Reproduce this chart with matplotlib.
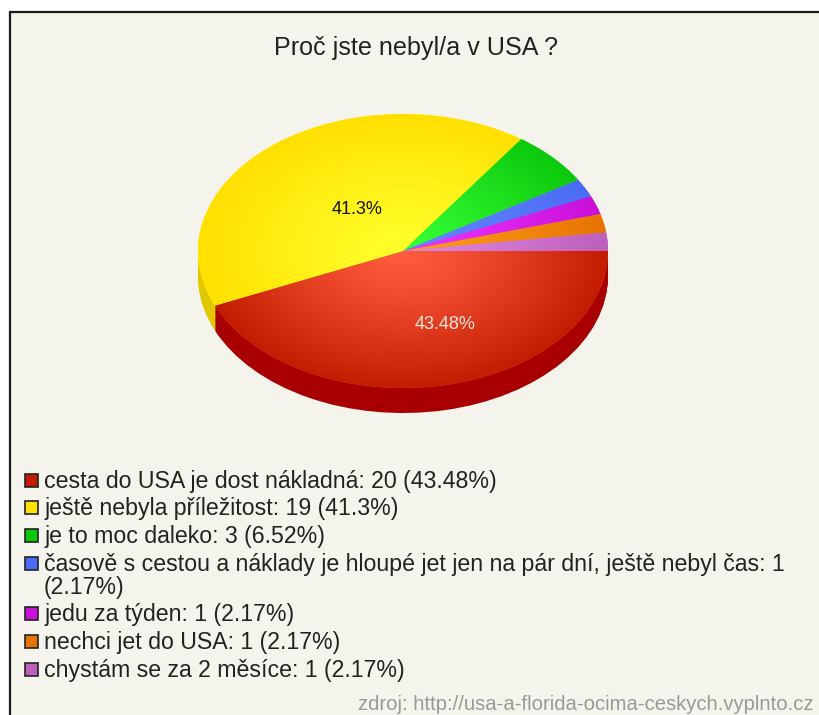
import numpy as np
import matplotlib
matplotlib.use("Agg")
import matplotlib.pyplot as plt
from matplotlib.colors import LinearSegmentedColormap
from matplotlib.patches import Rectangle

plt.rcParams['font.family'] = ['Liberation Sans', 'DejaVu Sans']

title = "Proč jste nebyl/a v USA ?"
source = "zdroj: http://usa-a-florida-ocima-ceskych.vyplnto.cz"
counts = [20, 19, 3, 1, 1, 1, 1]
shares = [43.48, 41.3, 6.52, 2.17, 2.17, 2.17, 2.17]
legend_labels = [
    "cesta do USA je dost nákladná: 20 (43.48%)",
    "ještě nebyla příležitost: 19 (41.3%)",
    "je to moc daleko: 3 (6.52%)",
    "časově s cestou a náklady je hloupé jet jen na pár dní, ještě nebyl čas: 1\n(2.17%)",
    "jedu za týden: 1 (2.17%)",
    "nechci jet do USA: 1 (2.17%)",
    "chystám se za 2 měsíce: 1 (2.17%)",
]
inner_colors = ['#ff5c3e', '#ffff2a', '#36ff36', '#6484ff', '#ec34ff', '#ff9c1e', '#e084e0']
outer_colors = ['#c41c00', '#ffe000', '#0cc80c', '#4a6cf4', '#c810d8', '#e87400', '#bc60bc']
side_colors = ['#a80000', '#e0c800', '#0a9a0a', '#3a54c0', '#9c0ca8', '#b45a00', '#944a94']
legend_colors = ['#c41c00', '#ffe000', '#0cc80c', '#4a6cf4', '#c810d8', '#e87400', '#bc60bc']

W, H = 819, 715
BG = '#f4f4ec'


def fx(x):
    return x / W


def fy(y):
    return 1 - y / H


fig = plt.figure(figsize=(W / 100, H / 100), dpi=100, facecolor='white')

# panel with the black border, runs off the right and bottom edges
fig.add_artist(Rectangle((fx(10), fy(H + 10)), (W + 10) / W, (H - 2) / H, transform=fig.transFigure,
                         facecolor=BG, edgecolor='#1a1a1a', linewidth=1.6, zorder=-1))

# pie: circle of radius 1 squeezed to an ellipse by the axes shape
rx, ry, depth = 205, 137, 25
ax = fig.add_axes([fx(403 - rx), fy(251 + ry + depth), 2 * rx / W, (2 * ry + depth) / H])
ax.patch.set_alpha(0)

# side of the pie, stacked dark copies
for off in np.arange(depth, 0, -1):
    ax.pie(counts, colors=side_colors, startangle=0, counterclock=False,
           center=(0, -off / ry), radius=1, wedgeprops={'linewidth': 0})

wedges, _ = ax.pie(counts, colors=inner_colors, startangle=0, counterclock=False,
                   center=(0, 0), radius=1, wedgeprops={'linewidth': 0})

# radial shading inside each slice, colour holds a bit longer near the centre
xx, yy = np.meshgrid(np.linspace(-1, 1, 500), np.linspace(-1, 1, 500))
rr = np.clip(np.hypot(xx, yy), 0, 1) ** 1.2
for w, c1, c2 in zip(wedges, inner_colors, outer_colors):
    cmap = LinearSegmentedColormap.from_list('s', [c1, c2])
    im = ax.imshow(rr, cmap=cmap, extent=(-1, 1, -1, 1), origin='lower', aspect='auto',
                   vmin=0, vmax=1, zorder=3, interpolation='bilinear')
    im.set_clip_path(w)

ax.set_xlim(-1, 1)
ax.set_ylim(-1 - depth / ry, 1)
ax.set_aspect('auto')
ax.axis('off')

fig.text(fx(415.5), fy(47.5), title, fontsize=18.1, color='#222222', ha='center', va='center')
fig.text(fx(357), fy(209.5), f"{shares[1]:g}%", fontsize=13, color='#111111', ha='center', va='center')
fig.text(fx(445), fy(324), f"{shares[0]:g}%", fontsize=13, color='#fbe6dc', ha='center', va='center')

legend_y = [480, 507.5, 535.5, 563, 613, 641, 669]
for lab, col, y in zip(legend_labels, legend_colors, legend_y):
    fig.add_artist(Rectangle((fx(25), fy(y + 6.5)), 13 / W, 13 / H, transform=fig.transFigure,
                             facecolor=col, edgecolor='#222222', linewidth=1.2))
    fig.text(fx(44), fy(y - 10), lab, fontsize=16.7, color='#222222', ha='left', va='top',
             linespacing=1.0)

fig.text(fx(813), fy(704.5), source, fontsize=14.6, color='#999999', ha='right', va='center')

fig.savefig("out.png", dpi=100, facecolor='white')
